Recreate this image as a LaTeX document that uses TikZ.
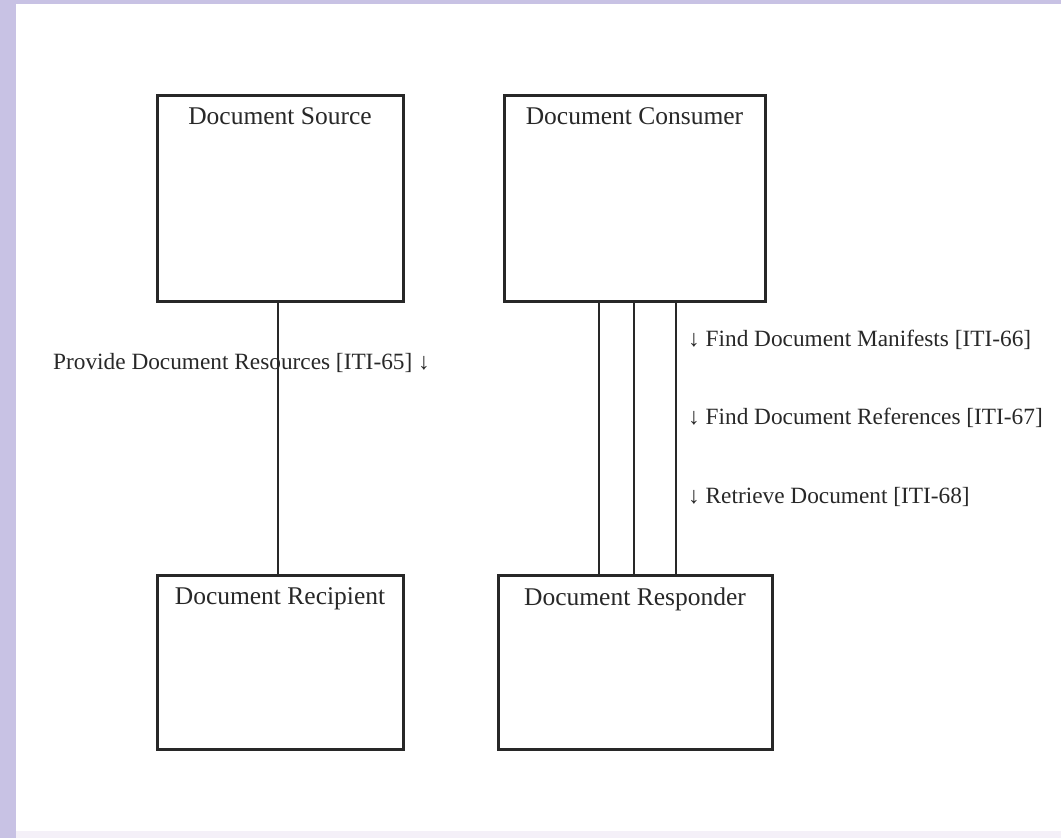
\documentclass[tikz,border=0pt]{standalone}
\usepackage{fontspec}
\setmainfont{Liberation Serif}
\definecolor{frame}{RGB}{200,194,228}
\definecolor{edge}{RGB}{244,240,248}
\definecolor{ink}{RGB}{40,40,40}
\begin{document}
\begin{tikzpicture}[x=1pt,y=-1pt,
  box/.style={draw=ink,line width=3pt,fill=white,anchor=north west,inner sep=0pt},
  title/.style={anchor=north,inner sep=0pt,text=ink,font=\fontsize{25.5}{28}\selectfont},
  flow/.style={draw=ink,line width=2pt},
  msg/.style={anchor=west,inner sep=0pt,text=ink,font=\fontsize{23.3}{26}\selectfont}]
  % page background and frame
  \fill[frame] (0,0) rectangle (1061,838);
  \fill[edge] (16,831) rectangle (1061,838);
  \fill[white] (16,4) rectangle (1061,831);
  \useasboundingbox (0,0) rectangle (1061,838);

  % actor boxes
  \node[box,minimum width=246pt,minimum height=206pt] (src) at (155.5,93.5) {};
  \node[box,minimum width=261pt,minimum height=206pt] (con) at (502.5,93.5) {};
  \node[box,minimum width=246pt,minimum height=174pt] (rec) at (155.5,573.5) {};
  \node[box,minimum width=274pt,minimum height=174pt] (rsp) at (496.5,573.5) {};

  \node[title] (srct) at ([yshift=-14pt]src.north) {Document Source};
  \node[title] (cont) at ([yshift=-14pt]con.north) {Document Consumer};
  \node[title] (rect) at ([yshift=-14pt]rec.north) {Document Recipient};
  \node[title] (rspt) at ([yshift=-14pt]rsp.north) {Document Responder};

  % transactions
  \draw[flow] ([xshift=-2pt]src.south) -- ([xshift=-2pt]rec.north);
  \draw[flow] ([xshift=-36pt]con.south) -- ([xshift=-36pt]con.south |- rsp.north);
  \draw[flow] ([xshift=-1pt]con.south) -- ([xshift=-1pt]con.south |- rsp.north);
  \draw[flow] ([xshift=41pt]con.south) -- ([xshift=41pt]con.south |- rsp.north);

  \node[msg] (m65) at (53,363) {Provide Document Resources [ITI-65] ↓};
  \node[msg] (m66) at (688,340) {↓ Find Document Manifests [ITI-66]};
  \node[msg] (m67) at (688,418) {↓ Find Document References [ITI-67]};
  \node[msg] (m68) at (688,497) {↓ Retrieve Document [ITI-68]};
\end{tikzpicture}
\end{document}
